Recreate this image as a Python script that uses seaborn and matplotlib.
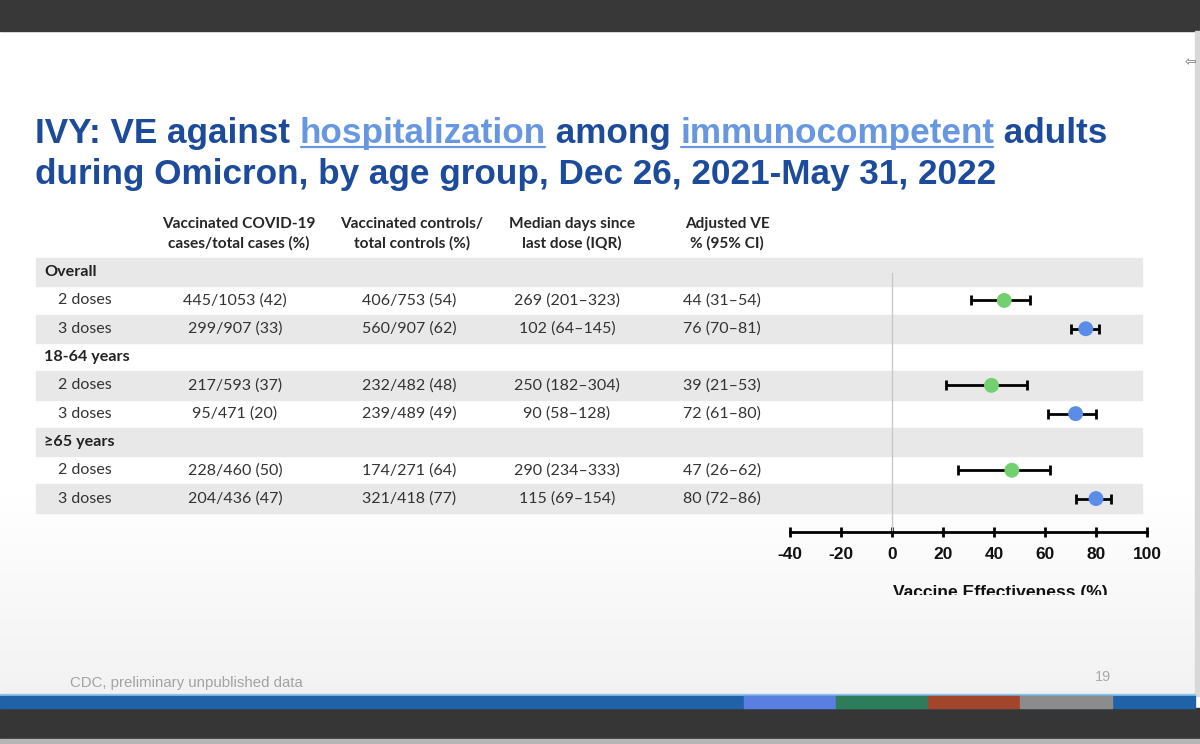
import numpy as np
import pandas as pd
import matplotlib
matplotlib.use("Agg")
import matplotlib.pyplot as plt
import seaborn as sns
from matplotlib.patches import Rectangle

# datos de la tabla
grupos = ["Overall", "18-64 years", "≥65 years"]
dosis = ["2 doses", "3 doses"]
casos = ["445/1053 (42)", "299/907 (33)", "217/593 (37)",
         "95/471 (20)", "228/460 (50)", "204/436 (47)"]
controles = ["406/753 (54)", "560/907 (62)", "232/482 (48)",
             "239/489 (49)", "174/271 (64)", "321/418 (77)"]
dias = ["269 (201\u2013323)", "102 (64\u2013145)", "250 (182\u2013304)",
        "90 (58\u2013128)", "290 (234\u2013333)", "115 (69\u2013154)"]
ve = [44, 76, 39, 72, 47, 80]
ve_lo = [31, 70, 21, 61, 26, 72]
ve_hi = [54, 81, 53, 80, 62, 86]
encabezados = ["Vaccinated COVID-19\ncases/total cases (%)",
               "Vaccinated controls/\ntotal controls (%)",
               "Median days since\nlast dose (IQR)",
               "Adjusted VE\n% (95% CI)"]
ticks_x = [-40, -20, 0, 20, 40, 60, 80, 100]

# filas: cada grupo ocupa una fila de titulo y dos de dosis
filas = []
k = 0
for g, grupo in enumerate(grupos):
    for d, dd in enumerate(dosis):
        filas.append(dict(fila=3 * g + 1 + d, grupo=grupo, dosis=dd,
                          casos=casos[k], controles=controles[k], dias=dias[k],
                          ve=ve[k], lo=ve_lo[k], hi=ve_hi[k]))
        k += 1
df = pd.DataFrame(filas)

sns.set_theme(style="white")
plt.rcParams["font.family"] = ["Lato", "DejaVu Sans"]
plt.rcParams["axes.unicode_minus"] = False

fig = plt.figure(figsize=(12, 7.44), dpi=100)
bg = fig.add_axes([0, 0, 1, 1])
bg.set_xlim(0, 1200)
bg.set_ylim(744, 0)
bg.axis("off")

# fondo de la diapositiva
grad = np.linspace(0, 1, 200)[:, None]
grad = np.clip((grad - 0.7) / 0.3, 0, 1) * 0.05
img = np.dstack([1 - grad, 1 - grad, 1 - grad])
bg.imshow(img, extent=[0, 1195, 696, 31], aspect="auto", zorder=0)
bg.add_patch(Rectangle((0, 0), 1200, 31, color="#383838", zorder=1))
bg.add_patch(Rectangle((1195, 31), 5, 665, color="#d8d8d8", zorder=1))
bg.add_patch(Rectangle((0, 708), 1200, 31, color="#363636", zorder=1))
bg.add_patch(Rectangle((0, 739), 1200, 5, color="#b5b5b5", zorder=1))
bg.add_patch(Rectangle((0, 694), 1195, 2, color="#8fc3ea", zorder=1))
bg.add_patch(Rectangle((0, 696), 1195, 12, color="#2062a8", zorder=1))
for x0, col in zip([744, 836, 928, 1020], ["#5a7fe0", "#2e7d5a", "#a3452a", "#8c8c8c"]):
    bg.add_patch(Rectangle((x0, 696), 92, 12, color=col, zorder=2))
bg.text(1185, 62, "\u21e6", fontsize=10, color="#777777", ha="left", va="center",
        family=["DejaVu Sans"], zorder=3)

# titulo con palabras subrayadas
renderer = fig.canvas.get_renderer()
oscuro = "#1c4b9b"
claro = "#6897e2"
lineas = [
    (143, [("IVY: VE against ", oscuro, False), ("hospitalization", claro, True),
           (" among ", oscuro, False), ("immunocompetent", claro, True),
           (" adults", oscuro, False)]),
    (184, [("during Omicron, by age group, Dec 26, 2021-May 31, 2022", oscuro, False)]),
]
for yb, partes in lineas:
    x = 35
    for txt, col, sub in partes:
        t = bg.text(x, yb, txt, color=col, fontsize=25.3, fontweight="bold",
                    family=["Liberation Sans", "DejaVu Sans"], ha="left", va="baseline", zorder=3)
        w = t.get_window_extent(renderer).width
        if sub:
            bg.plot([x + 1, x + w - 1], [yb + 4, yb + 4], color=col, lw=1.6, zorder=3)
        x += w

# bandas grises de la tabla
alto = 28.3
y0 = 258
for i in range(9):
    if i % 2 == 0:
        bg.add_patch(Rectangle((36, y0 + alto * i), 1106, alto, color="#e8e8e8", zorder=1))

# encabezados
cx = [239, 412, 572, 727]
for c, h in zip(cx, encabezados):
    bg.text(c, 234, h, ha="center", va="center", fontsize=11.1, fontweight="bold",
            color="#262626", linespacing=1.4, zorder=3)

# texto de la tabla
for g, grupo in enumerate(grupos):
    bg.text(44, y0 + alto * (3 * g + 0.5), grupo, ha="left", va="center", fontsize=11.6,
            fontweight="bold", color="#222222", zorder=3)
vx = [235, 409, 567, 722]
for _, r in df.iterrows():
    yc = y0 + alto * (r.fila + 0.5)
    bg.text(58, yc, r.dosis, ha="left", va="center", fontsize=11.5, color="#333333", zorder=3)
    vetxt = f"{r.ve} ({r.lo}\u2013{r.hi})"
    for c, txt in zip(vx, [r.casos, r.controles, r.dias, vetxt]):
        bg.text(c, yc, txt, ha="center", va="center", fontsize=11.5, color="#333333", zorder=3)

# pie de pagina
bg.text(70, 683, "CDC, preliminary unpublished data", fontsize=10.8, color="#a3a3a3",
        family=["Liberation Sans Narrow", "Liberation Sans"], ha="left", va="center", zorder=3)
bg.text(1103, 677, "19", fontsize=10.5, color="#aaaaaa",
        family=["Liberation Sans Narrow", "Liberation Sans"], ha="center", va="center", zorder=3)

# grafico de bosque
eje_px = 532
ax = fig.add_axes([790 / 1200, (744 - eje_px) / 744, 357 / 1200, (eje_px - y0) / 744])
ax.patch.set_alpha(0)
ax.set_xlim(-40, 100)
ax.set_ylim((eje_px - y0) / alto - 0.5, -0.5)
ax.axvline(0, ymin=0, ymax=(eje_px - 273) / (eje_px - y0), color="#c9c9c9", lw=1, zorder=1)
ax.errorbar(df["ve"], df["fila"], xerr=[df["ve"] - df["lo"], df["hi"] - df["ve"]],
            fmt="none", ecolor="black", elinewidth=2, capsize=3.5, capthick=2, zorder=2)
sns.scatterplot(data=df, x="ve", y="fila", hue="dosis", palette={"2 doses": "#72d06f", "3 doses": "#5b8de8"},
                s=115, edgecolor="none", legend=False, ax=ax, zorder=3)
ax.set_xticks(ticks_x)
ax.set_yticks([])
ax.set_ylabel("")
ax.set_xlabel("")
for s in ["top", "right", "left"]:
    ax.spines[s].set_visible(False)
ax.spines["bottom"].set_color("black")
ax.spines["bottom"].set_linewidth(2)
ax.tick_params(axis="x", direction="inout", length=7, width=2, color="black", bottom=True, pad=7)
for lab in ax.get_xticklabels():
    lab.set_fontweight("bold")
    lab.set_fontsize(12.5)
    lab.set_family(["Liberation Sans", "DejaVu Sans"])
    lab.set_color("#111111")

# etiqueta del eje, recortada por abajo como en la captura
lab_ax = fig.add_axes([850 / 1200, (744 - 595) / 744, 300 / 1200, 30 / 744])
lab_ax.axis("off")
lab_ax.set_xlim(850, 1150)
lab_ax.set_ylim(595, 565)
lab_ax.text(1000, 597, "Vaccine Effectiveness (%)", ha="center", va="baseline",
            fontsize=12.6, fontweight="bold", color="#111111",
            family=["Liberation Sans", "DejaVu Sans"], clip_on=True)

fig.savefig("out.png", dpi=100)
